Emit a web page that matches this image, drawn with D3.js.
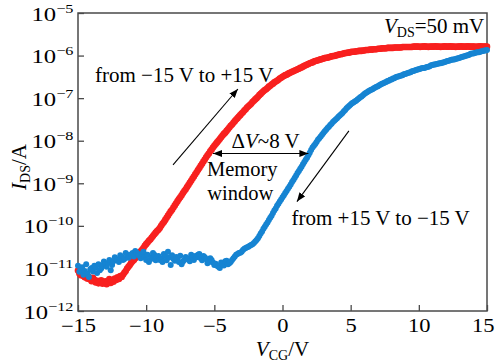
<!DOCTYPE html>
<html>
<head>
<meta charset="utf-8">
<script src="https://cdn.jsdelivr.net/npm/d3@7"></script>
<style>
  html, body { margin: 0; padding: 0; background: #fff; }
  svg { display: block; }
  text { font-family: "Liberation Serif", "Times New Roman", serif; fill: #000; }
</style>
</head>
<body>
<svg id="chart" width="495" height="363"></svg>
<script>
// Gate-voltage sweeps: first value and step (V)
const forwardStart = -15, forwardStep = 0.1;   // sweep from -15 V to +15 V
const reverseStart = -15, reverseStep = 0.1;   // sweep from +15 V to -15 V (stored low to high)

// log10(I_DS / A) for each gate-voltage step
const forwardLogI = [
  -11.05,-11.12,-11.16,-11.09,-11.18,-11.21,-11.13,-11.24,-11.20,-11.26,
  -11.30,-11.22,-11.27,-11.33,-11.29,-11.35,-11.31,-11.28,-11.36,-11.33,
  -11.30,-11.37,-11.31,-11.25,-11.34,-11.29,-11.31,-11.24,-11.27,-11.21,
  -11.25,-11.18,-11.20,-11.15,-11.10,-11.06,-11.00,-10.96,-10.92,-10.87,
  -10.83,-10.80,-10.76,-10.72,-10.68,-10.64,-10.60,-10.56,-10.52,-10.47,
  -10.43,-10.39,-10.35,-10.32,-10.28,-10.24,-10.20,-10.16,-10.12,-10.09,
  -10.05,-10.00,-9.95,-9.91,-9.86,-9.81,-9.76,-9.71,-9.66,-9.62,
  -9.57,-9.52,-9.47,-9.42,-9.37,-9.33,-9.28,-9.23,-9.18,-9.14,
  -9.09,-9.04,-8.99,-8.94,-8.89,-8.84,-8.79,-8.74,-8.69,-8.64,
  -8.59,-8.54,-8.49,-8.44,-8.39,-8.34,-8.30,-8.25,-8.21,-8.16,
  -8.12,-8.08,-8.04,-8.00,-7.96,-7.92,-7.88,-7.84,-7.81,-7.77,
  -7.73,-7.69,-7.65,-7.62,-7.58,-7.54,-7.50,-7.47,-7.43,-7.40,
  -7.36,-7.33,-7.29,-7.26,-7.22,-7.19,-7.16,-7.13,-7.09,-7.06,
  -7.03,-7.00,-6.97,-6.93,-6.90,-6.87,-6.84,-6.81,-6.79,-6.76,
  -6.73,-6.71,-6.68,-6.66,-6.63,-6.61,-6.59,-6.57,-6.54,-6.52,
  -6.50,-6.48,-6.46,-6.45,-6.43,-6.41,-6.40,-6.38,-6.37,-6.35,
  -6.34,-6.32,-6.31,-6.29,-6.28,-6.26,-6.24,-6.23,-6.21,-6.20,
  -6.18,-6.17,-6.16,-6.14,-6.13,-6.12,-6.11,-6.10,-6.09,-6.08,
  -6.07,-6.06,-6.05,-6.05,-6.04,-6.03,-6.02,-6.01,-6.01,-6.00,
  -5.99,-5.98,-5.97,-5.97,-5.96,-5.95,-5.94,-5.94,-5.93,-5.93,
  -5.92,-5.91,-5.91,-5.91,-5.90,-5.90,-5.89,-5.89,-5.89,-5.88,
  -5.88,-5.87,-5.87,-5.87,-5.86,-5.86,-5.86,-5.85,-5.85,-5.85,
  -5.84,-5.84,-5.84,-5.83,-5.83,-5.83,-5.83,-5.82,-5.82,-5.82,
  -5.82,-5.82,-5.81,-5.81,-5.81,-5.81,-5.81,-5.81,-5.80,-5.80,
  -5.80,-5.80,-5.80,-5.80,-5.80,-5.80,-5.79,-5.79,-5.79,-5.79,
  -5.79,-5.80,-5.79,-5.79,-5.78,-5.79,-5.79,-5.80,-5.79,-5.79,
  -5.79,-5.79,-5.78,-5.79,-5.79,-5.79,-5.80,-5.79,-5.79,-5.78,
  -5.79,-5.79,-5.79,-5.78,-5.79,-5.79,-5.79,-5.80,-5.79,-5.79,
  -5.79,-5.78,-5.79,-5.79,-5.79,-5.79,-5.78,-5.79,-5.79,-5.79,
  -5.79,-5.79,-5.80,-5.79,-5.79,-5.78,-5.79,-5.79,-5.79,-5.79,
  -5.79
];

const reverseLogI = [
  -10.94,-11.08,-11.04,-10.97,-11.15,-11.06,-10.90,-11.12,-11.20,-11.02,
  -10.99,-11.07,-10.94,-10.97,-11.11,-10.90,-11.04,-11.00,-10.94,-10.84,
  -10.90,-10.96,-10.87,-10.80,-11.04,-10.92,-10.83,-10.74,-10.78,-10.81,
  -10.85,-10.69,-10.73,-10.80,-10.78,-10.64,-10.68,-10.75,-10.71,-10.67,
  -10.64,-10.72,-10.59,-10.63,-10.66,-10.70,-10.76,-10.66,-10.61,-10.74,
  -10.80,-10.68,-10.85,-10.79,-10.73,-10.64,-10.68,-10.81,-10.76,-10.71,
  -10.80,-10.76,-10.85,-10.66,-10.71,-10.81,-10.61,-10.74,-10.92,-10.69,
  -10.78,-10.82,-10.73,-10.77,-10.85,-10.70,-10.90,-10.84,-10.80,-10.73,
  -10.76,-10.78,-10.83,-10.68,-10.73,-10.80,-10.71,-10.74,-10.68,-10.66,
  -10.76,-10.81,-10.71,-10.74,-10.78,-10.88,-10.85,-10.76,-10.80,-10.86,
  -10.92,-10.89,-10.94,-10.96,-10.99,-10.86,-10.90,-10.93,-10.83,-10.82,
  -10.90,-10.88,-10.85,-10.80,-10.76,-10.72,-10.68,-10.66,-10.64,-10.63,
  -10.61,-10.57,-10.54,-10.52,-10.50,-10.49,-10.47,-10.45,-10.43,-10.40,
  -10.37,-10.33,-10.29,-10.24,-10.18,-10.13,-10.07,-10.02,-9.97,-9.92,
  -9.86,-9.81,-9.76,-9.70,-9.64,-9.59,-9.53,-9.48,-9.43,-9.38,
  -9.33,-9.28,-9.23,-9.18,-9.13,-9.08,-9.03,-8.97,-8.92,-8.87,
  -8.82,-8.76,-8.71,-8.66,-8.61,-8.55,-8.50,-8.45,-8.40,-8.34,
  -8.28,-8.22,-8.16,-8.12,-8.08,-8.03,-7.98,-7.94,-7.90,-7.86,
  -7.82,-7.78,-7.74,-7.70,-7.67,-7.63,-7.60,-7.56,-7.53,-7.50,
  -7.47,-7.44,-7.41,-7.38,-7.35,-7.31,-7.28,-7.24,-7.21,-7.18,
  -7.15,-7.12,-7.10,-7.08,-7.06,-7.03,-7.01,-6.98,-6.96,-6.93,
  -6.90,-6.88,-6.86,-6.84,-6.82,-6.80,-6.79,-6.77,-6.75,-6.73,
  -6.72,-6.70,-6.68,-6.66,-6.65,-6.63,-6.62,-6.60,-6.59,-6.57,
  -6.56,-6.54,-6.53,-6.51,-6.50,-6.49,-6.48,-6.47,-6.46,-6.44,
  -6.43,-6.42,-6.41,-6.40,-6.39,-6.37,-6.36,-6.35,-6.34,-6.33,
  -6.32,-6.31,-6.30,-6.29,-6.29,-6.28,-6.27,-6.26,-6.25,-6.23,
  -6.22,-6.21,-6.21,-6.20,-6.19,-6.18,-6.18,-6.17,-6.16,-6.15,
  -6.14,-6.13,-6.12,-6.11,-6.10,-6.09,-6.09,-6.08,-6.07,-6.06,
  -6.05,-6.04,-6.03,-6.02,-6.01,-6.00,-5.99,-5.98,-5.96,-5.95,
  -5.95,-5.94,-5.93,-5.92,-5.92,-5.91,-5.90,-5.89,-5.88,-5.88,
  -5.87
];

const xTickValues = [-15, -10, -5, 0, 5, 10, 15];
const yTickExponents = [-12, -11, -10, -9, -8, -7, -6, -5];

const colors = { forward: "#f8201f", reverse: "#1684d2", frame: "#4a4a4a" };

const forward = forwardLogI.map((e, i) => ({ vg: +(forwardStart + i * forwardStep).toFixed(1), ids: Math.pow(10, e) }));
const reverse = reverseLogI.map((e, i) => ({ vg: +(reverseStart + i * reverseStep).toFixed(1), ids: Math.pow(10, e) }));

const W = 495, H = 363;
const margin = { left: 78, right: 8, top: 13, bottom: 52 };
const svg = d3.select("#chart");

const x = d3.scaleLinear().domain([-15, 15]).range([margin.left, W - margin.right]);
const y = d3.scaleLog().domain([1e-12, 1e-5]).range([H - margin.bottom, margin.top]);
const at = (vg, e) => [x(vg), y(Math.pow(10, e))];

// arrowheads
const defs = svg.append("defs");
defs.append("marker")
  .attr("id", "head").attr("markerUnits", "userSpaceOnUse")
  .attr("markerWidth", 10).attr("markerHeight", 8)
  .attr("refX", 9).attr("refY", 3.5).attr("orient", "auto-start-reverse")
  .append("path").attr("d", "M0,0 L9,3.5 L0,7 Z").attr("fill", "#000");

// frame
svg.append("rect")
  .attr("x", x(-15)).attr("y", y(1e-5))
  .attr("width", x(15) - x(-15)).attr("height", y(1e-12) - y(1e-5))
  .attr("fill", "none").attr("stroke", colors.frame).attr("stroke-width", 1.5);

// x axis (ticks point inward)
const labelStretch = 1.25;
const gx = svg.append("g").attr("transform", `translate(0,${y(1e-12)})`)
  .call(d3.axisBottom(x).tickValues(xTickValues).tickSizeInner(-6).tickSizeOuter(0));
gx.select(".domain").remove();
gx.selectAll(".tick line").attr("stroke", colors.frame).attr("stroke-width", 1.3);
gx.selectAll(".tick text")
  .attr("y", 21).attr("dy", 0)
  .attr("font-size", 18)
  .attr("transform", `scale(${labelStretch},1)`)
  .filter(d => d === 15)
  .attr("text-anchor", "end")
  .attr("x", (W - 1 - x(15)) / labelStretch);

// y axis (ticks point inward)
const yTickVals = yTickExponents.map(e => Math.pow(10, e));
const gy = svg.append("g").attr("transform", `translate(${x(-15)},0)`)
  .call(d3.axisLeft(y).tickValues(yTickVals).tickSizeInner(-6).tickSizeOuter(0).tickFormat(() => ""));
gy.select(".domain").remove();
gy.selectAll(".tick line").attr("stroke", colors.frame).attr("stroke-width", 1.3);
gy.selectAll(".tick").each(function (d) {
  const e = Math.round(Math.log10(d));
  const t = d3.select(this).append("text")
    .attr("x", -3.5).attr("y", 7).attr("text-anchor", "end")
    .attr("font-size", 19).attr("transform", "scale(1.3,1)");
  t.append("tspan").text("10");
  t.append("tspan").attr("dy", -8).attr("font-size", 12.5).text("\u2212" + Math.abs(e));
});

// data points
svg.append("g").selectAll("circle").data(forward).join("circle")
  .attr("cx", d => x(d.vg)).attr("cy", d => y(d.ids)).attr("r", 3.3)
  .attr("fill", colors.forward);
svg.append("g").selectAll("circle").data(reverse).join("circle")
  .attr("cx", d => x(d.vg)).attr("cy", d => y(d.ids)).attr("r", 3)
  .attr("fill", colors.reverse);

// sweep-direction arrows
const arrow = (p0, p1, both) => {
  const l = svg.append("line")
    .attr("x1", p0[0]).attr("y1", p0[1]).attr("x2", p1[0]).attr("y2", p1[1])
    .attr("stroke", "#000").attr("stroke-width", 1.1)
    .attr("marker-end", "url(#head)");
  if (both) l.attr("marker-start", "url(#head)");
};
arrow(at(-8.03, -8.57), at(-3.27, -6.785));
arrow(at(4.87, -7.77), at(1.06, -9.43));
arrow(at(-5.1, -8.30), at(1.9, -8.30), true);

// annotations
const label = (pos, anchor, size) => svg.append("text")
  .attr("x", pos[0]).attr("y", pos[1]).attr("text-anchor", anchor).attr("font-size", size);

label(at(-13.75, -6.62), "start", 21).text("from \u221215 V to +15 V");
label(at(0.66, -9.98), "start", 21).text("from +15 V to \u221215 V");
label(at(-2.95, -8.83), "middle", 20.5).text("Memory");
label(at(-3.1, -9.39), "middle", 20.5).text("window");

const dv = label(at(-3.74, -8.16), "start", 21);
dv.append("tspan").text("\u0394");
dv.append("tspan").attr("font-style", "italic").text("V");
dv.append("tspan").text("~8 V");

const vds = label(at(14.8, -5.47), "end", 21);
vds.append("tspan").attr("font-style", "italic").text("V");
vds.append("tspan").attr("font-size", 14).attr("dy", 4).text("DS");
vds.append("tspan").attr("dy", -4).text("=50 mV");

// axis titles
const xt = svg.append("text").attr("x", x(0)).attr("y", 356)
  .attr("text-anchor", "middle").attr("font-size", 21);
xt.append("tspan").attr("font-style", "italic").text("V");
xt.append("tspan").attr("font-size", 14).attr("dy", 4).text("CG");
xt.append("tspan").attr("dy", -4).text("/V");

const yt = svg.append("text")
  .attr("transform", `translate(26,${(y(1e-12) + y(1e-5)) / 2 + 5}) rotate(-90)`)
  .attr("text-anchor", "middle").attr("font-size", 21);
yt.append("tspan").attr("font-style", "italic").text("I");
yt.append("tspan").attr("font-size", 14).attr("dy", 4).text("DS");
yt.append("tspan").attr("dy", -4).text("/A");
</script>
</body>
</html>
